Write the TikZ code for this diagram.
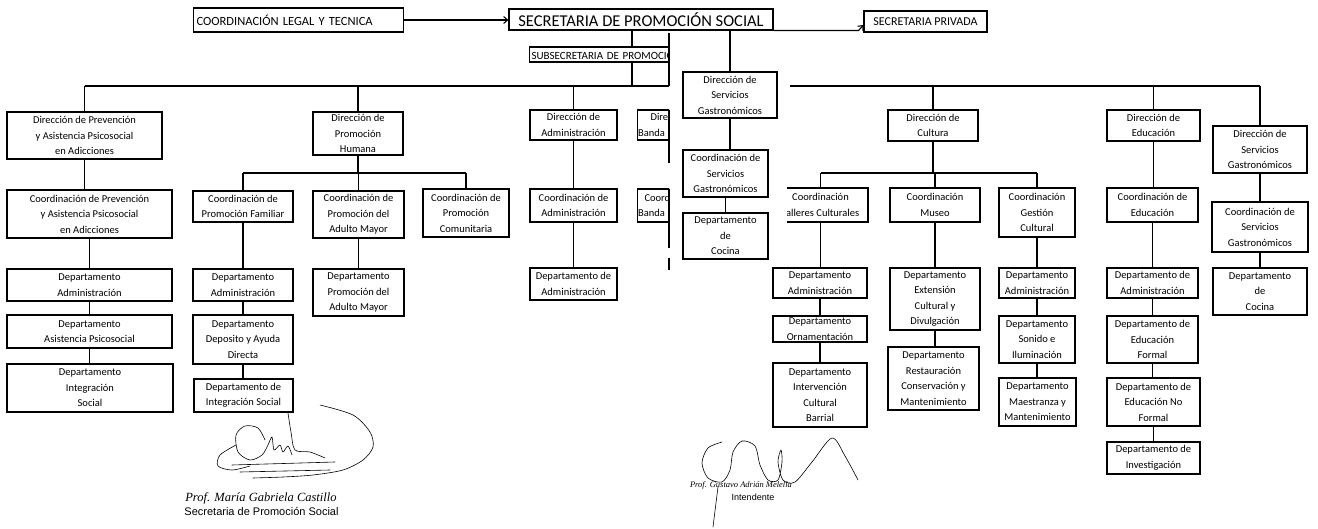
\documentclass[tikz,border=0pt]{standalone}
\usepackage{fontspec}
\setmainfont{Carlito}
\newfontfamily\namefont{Liberation Serif}
\newfontfamily\rolefont{Liberation Sans}
\usetikzlibrary{arrows.meta}
\newcommand{\boxfont}{\fontsize{10.5}{15.5}\selectfont}

\begin{document}
\begin{tikzpicture}[x=1pt, y=-1pt,
    box/.style={draw, line width=1.1pt, align=center, inner sep=0.5pt, font=\boxfont},
    bx/.style 2 args={minimum width=#1, minimum height=#2},
    link/.style={line width=1.1pt},
    arr/.style={line width=1.1pt, -{Straight Barb[length=4pt, width=7pt]}},
    sig/.style={line width=0.6pt, line cap=round, line join=round}]
  \useasboundingbox (0,0) rectangle (1318,529);

  % Top level
  \node[box, anchor=west, text width=204, inner xsep=3pt, minimum height=24, align=left,
        font=\fontsize{12.5}{14}\selectfont] (legal) at (193,20) {COORDINACIÓN LEGAL Y TECNICA};
  \node[box, bx={264}{21}, font=\fontsize{16.5}{18}\selectfont] (sec) at (641,19.5) {SECRETARIA DE PROMOCIÓN SOCIAL};
  \node[box, bx={123}{21}, font=\fontsize{12}{14}\selectfont] (priv) at (925.5,21.5) {SECRETARIA PRIVADA};
  \draw[arr] (legal.east) -- (legal.east -| sec.west);
  \draw[arr] (sec.south east) -- ++(85,0) -- ([yshift=-3.5pt]priv.west);

  % Left page, cut at its right edge
  \begin{scope}
    \clip (0,0) rectangle (669,529);
    \node[box, anchor=west, text width=196, inner xsep=2pt, minimum height=15, align=left,
          font=\fontsize{11}{12}\selectfont] (subsec) at (529,54.5) {SUBSECRETARIA DE PROMOCIÓN};
    \node[box, anchor=west, text width=100, minimum height=30, align=left] (dban) at (637,125) {\hspace*{12.5pt}Dirección de\\Banda};
    \node[box, anchor=west, text width=100, minimum height=33, align=left] (cban) at (637,205.5) {\hspace*{6.5pt}Coordinación de\\Banda};
  \end{scope}
  \draw[link] (669,33) -- (669,86);
  \draw[link] (669,110) -- (669,163);
  \draw[link] (669,189) -- (669,248);
  \draw[link] (669,258) -- (669,270);

  % Prevencion column
  \node[box, bx={155}{47}] (dprev) at (84.5,135.5) {Dirección de Prevención\\y Asistencia Psicosocial\\en Adicciones};
  \node[box, bx={165}{48}] (cprev) at (89.5,214) {Coordinación de Prevención\\y Asistencia Psicosocial\\en Adicciones};
  \node[box, bx={165}{32}] (dpadm) at (89.5,285) {Departamento\\Administración};
  \node[box, bx={165}{33}] (dpasis) at (89.5,331.5) {Departamento\\Asistencia Psicosocial};
  \node[box, bx={166}{48}] (dpint) at (90,388) {Departamento\\Integración\\Social};

  % Promocion Humana column
  \node[box, bx={90}{43}] (dhum) at (358,133.5) {Dirección de\\Promoción\\Humana};
  \node[box, bx={100}{31}] (cfam) at (243,206.5) {Coordinación de\\Promoción Familiar};
  \node[box, bx={100}{32}] (dfadm) at (243,285) {Departamento\\Administración};
  \node[box, bx={100}{49}] (dfdep) at (243,339.5) {Departamento\\Deposito y Ayuda\\Directa};
  \node[box, bx={99}{33}] (dfint) at (243.5,395.5) {Departamento de\\Integración Social};
  \node[box, bx={91}{47}] (cmay) at (358.5,214.5) {Coordinación de\\Promoción del\\Adulto Mayor};
  \node[box, bx={91}{47}] (dmay) at (358.5,292.5) {Departamento\\Promoción del\\Adulto Mayor};
  \node[box, bx={86}{48}] (ccom) at (466,213) {Coordinación de\\Promoción\\Comunitaria};

  % Administracion column
  \node[box, bx={87}{30}] (dadm) at (573.5,125) {Dirección de\\Administración};
  \node[box, bx={87}{33}] (cadm) at (573.5,205.5) {Coordinación de\\Administración};
  \node[box, bx={87}{32}] (kadm) at (573.5,284) {Departamento de\\Administración};

  % Servicios Gastronomicos (middle)
  \node[box, bx={94}{46}] (dgas1) at (730,95) {Dirección de\\Servicios\\Gastronómicos};
  \node[box, bx={85}{47}] (cgas1) at (725.5,173.5) {Coordinación de\\Servicios\\Gastronómicos};
  \node[box, bx={85}{46}] (kgas1) at (725.5,236) {Departamento\\de\\Cocina};

  % Cultura column
  \node[box, bx={90}{31}] (dcul) at (933,125.5) {Dirección de\\Cultura};
  \begin{scope}
    \clip (787,0) rectangle (1318,529);
    \node[box, bx={95}{34}] (ctal) at (820.5,205) {Coordinación\\Talleres Culturales};
  \end{scope}
  \node[box, bx={94}{30}] (dtadm) at (820,283) {Departamento\\Administración};
  \node[box, bx={94}{26}] (dtorn) at (820,329) {Departamento\\Ornamentación};
  \node[box, bx={94}{64}] (dtint) at (820,395) {Departamento\\Intervención\\Cultural\\Barrial};
  \node[box, bx={90}{34}] (cmus) at (935,205) {Coordinación\\Museo};
  \node[box, bx={90}{62}] (dmext) at (935,299) {Departamento\\Extensión\\Cultural y\\Divulgación};
  \node[box, bx={91}{63}] (dmres) at (933.5,378.5) {Departamento\\Restauración\\Conservación y\\Mantenimiento};
  \node[box, bx={76}{49}] (cges) at (1037,212.5) {Coordinación\\Gestión\\Cultural};
  \node[box, bx={76}{30}] (dgadm) at (1037,283) {Departamento\\Administración};
  \node[box, bx={76}{47}] (dgson) at (1037,339.5) {Departamento\\Sonido e\\Iluminación};
  \node[box, bx={77}{48}] (dgmae) at (1037.5,402) {Departamento\\Maestranza y\\Mantenimiento};

  % Educacion column
  \node[box, bx={93}{31}] (dedu) at (1153.5,125.5) {Dirección de\\Educación};
  \node[box, bx={91}{34}] (cedu) at (1152.5,205) {Coordinación de\\Educación};
  \node[box, bx={91}{30}] (deadm) at (1152.5,283) {Departamento de\\Administración};
  \node[box, bx={91}{47}] (defor) at (1152.5,339.5) {Departamento de\\Educación\\Formal};
  \node[box, bx={93}{48}] (denof) at (1153.5,402) {Departamento de\\Educación No\\Formal};
  \node[box, bx={93}{32}] (deinv) at (1153.5,458) {Departamento de\\Investigación};

  % Servicios Gastronomicos (right)
  \node[box, bx={94}{47}] (dgas2) at (1260,149.5) {Dirección de\\Servicios\\Gastronómicos};
  \node[box, bx={96}{50}] (cgas2) at (1260,227) {Coordinación de\\Servicios\\Gastronómicos};
  \node[box, bx={94}{47}] (kgas2) at (1260,291.5) {Departamento\\de\\Cocina};

  % Buses
  \coordinate (bus) at (0,86);
  \coordinate (cutL) at (669,86);
  \coordinate (busR) at (790,86);
  \coordinate (sdrop) at (632,0);
  \coordinate (hbus) at (0,173);
  \draw[link] (sec.south -| sdrop) -- (subsec.north -| sdrop);
  \draw[link] (subsec.south -| sdrop) -- (bus -| sdrop);
  \draw[link] (dprev.north |- bus) -- (cutL);
  \foreach \n in {dprev,dhum,dadm}
    \draw[link] (\n.north |- bus) -- (\n.north);
  \draw[link] (sec.south -| dgas1.north) -- (dgas1.north);
  \draw[link] (busR) -- (busR -| dgas2.north);
  \foreach \n in {dcul,dedu,dgas2}
    \draw[link] (\n.north |- bus) -- (\n.north);

  % Sub buses
  \draw[link] (dhum.south) -- (dhum.south |- hbus);
  \draw[link] (cfam.north |- hbus) -- (ccom.north |- hbus);
  \foreach \n in {cfam,cmay,ccom}
    \draw[link] (\n.north |- hbus) -- (\n.north);
  \draw[link] (dcul.south) -- (dcul.south |- hbus);
  \draw[link] (ctal.north |- hbus) -- (cges.north |- hbus);
  \foreach \n in {ctal,cmus,cges}
    \draw[link] (\n.north |- hbus) -- (\n.north);

  % Vertical chains
  \foreach \a/\b in {dprev/cprev, cprev/dpadm, dpadm/dpasis, dpasis/dpint,
                     cfam/dfadm, dfadm/dfdep, dfdep/dfint, cmay/dmay,
                     dadm/cadm, cadm/kadm, dgas1/cgas1, cgas1/kgas1,
                     ctal/dtadm, dtadm/dtorn, dtorn/dtint, cmus/dmext, dmext/dmres,
                     cges/dgadm, dgadm/dgson, dgson/dgmae,
                     dedu/cedu, cedu/deadm, deadm/defor, defor/denof, denof/deinv,
                     dgas2/cgas2, cgas2/kgas2}
    \draw[link] (\a.south) -- (\a.south |- \b.north);

  % Signatures
  \draw[sig] plot[smooth] coordinates {(320,405) (353,415) (370,432) (373,447) (363,460) (343,470) (313,475) (283,477) (253,478)};
  \draw[sig] plot[smooth] coordinates {(288,413) (291,432) (295,450) (310,452) (325,458)};
  \draw[sig] plot[smooth] coordinates {(265,440) (258,428) (245,426) (236,435) (238,452) (250,460) (262,455) (268,445) (272,437) (274,450) (280,445) (283,452) (288,446) (292,455)};
  \draw[sig] plot[smooth] coordinates {(236,445) (220,455) (218,466) (232,470) (250,466)};
  \draw[sig] (232,465) -- (335,462);
  \draw[sig] (240,472) -- (330,470);
  \node[font=\namefont\itshape\fontsize{12.5}{14}\selectfont] (nameL) at (261,498) {Prof. María Gabriela Castillo};
  \node[font=\rolefont\fontsize{11}{12}\selectfont] (roleL) at (261.5,512) {Secretaria de Promoción Social};

  \draw[sig] plot[smooth] coordinates {(722,442) (708,448) (702,463) (708,478) (722,482) (730,470) (733,452) (742,441) (755,446) (760,465) (768,480) (778,480) (782,462) (781,450) (778,462) (783,480) (795,482) (812,462) (832,438) (845,456) (858,480)};
  \draw[sig] (718,487) -- (713,527);
  \node[font=\namefont\itshape\fontsize{8.5}{10}\selectfont] (nameR) at (741,485) {Prof. Gustavo Adrián Melella};
  \node[font=\rolefont\fontsize{9}{10}\selectfont] (roleR) at (753,497) {Intendente};
\end{tikzpicture}
\end{document}
